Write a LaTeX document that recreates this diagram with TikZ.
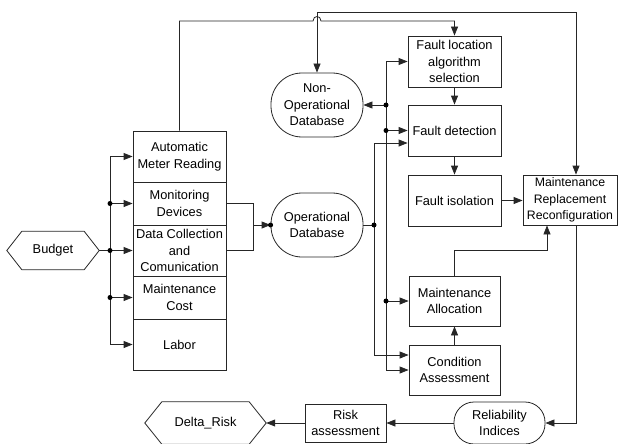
\documentclass[tikz,border=0pt]{standalone}
\usepackage{fontspec}
\setmainfont{Liberation Sans}
\usetikzlibrary{arrows.meta}
\newcommand\hexdraw[2]{\draw[ln] (#1.west) -- ([xshift=#2]#1.north west) -- ([xshift=-#2]#1.north east) -- (#1.east) -- ([xshift=-#2]#1.south east) -- ([xshift=#2]#1.south west) -- cycle;}
\begin{document}
\begin{tikzpicture}[x=1pt,y=-1pt,
  every node/.style={font=\fontsize{12.8}{16.6}\selectfont, align=center, inner sep=1pt},
  ln/.style={draw=black!85, line width=0.8pt},
  arr/.style={-{Triangle[length=9pt,width=7pt]}},
  darr/.style={{Triangle[length=9pt,width=7pt]}-{Triangle[length=9pt,width=7pt]}},
  box/.style={ln, rectangle},
  db/.style={ln, rectangle, rounded corners=#1},
  hexa/.style={rectangle}
]
\useasboundingbox (0,0) rectangle (618,444);

% left column
\node[box, minimum width=93pt, minimum height=51pt] (amr) at (179.5,156.5) {Automatic\\Meter Reading};
\node[box, minimum width=93pt, minimum height=43pt] (md) at (179.5,203.5) {Monitoring\\Devices};
\node[box, minimum width=93pt, minimum height=51pt] (dc) at (179.5,250.5) {Data Collection\\and\\Comunication};
\node[box, minimum width=93pt, minimum height=43pt] (mc) at (179.5,297.5) {Maintenance\\Cost};
\node[box, minimum width=93pt, minimum height=51pt] (lab) at (179.5,344.5) {Labor};

% budget
\node[hexa, minimum width=92pt, minimum height=38pt] (bud) at (53,250.5) {Budget};
\hexdraw{bud}{15}

% databases
\node[db=31pt, minimum width=92pt, minimum height=64pt] (nonop) at (317,105) {Non-\\Operational\\Database};
\node[db=31pt, minimum width=92pt, minimum height=64pt] (opdb) at (317,225) {Operational\\Database};

% right boxes
\node[box, minimum width=93pt, minimum height=51pt] (fl) at (454.5,61.5) {Fault location\\algorithm\\selection};
\node[box, minimum width=93pt, minimum height=51pt] (fd) at (454.5,130.5) {Fault detection};
\node[box, minimum width=93pt, minimum height=51pt] (fi) at (454.5,200.5) {Fault isolation};
\node[box, minimum width=94pt, minimum height=50pt, font=\fontsize{12.3}{16.6}\selectfont] (mrr) at (570,200) {Maintenance\\Replacement\\Reconfiguration};
\node[box, minimum width=91pt, minimum height=50pt] (ma) at (454.5,301) {Maintenance\\Allocation};
\node[box, minimum width=91pt, minimum height=50pt] (ca) at (454.5,370) {Condition\\Assessment};

% bottom row
\node[db=20pt, minimum width=91pt, minimum height=42pt] (ri) at (499.5,423) {Reliability\\Indices};
\node[box, minimum width=81pt, minimum height=38pt] (risk) at (345.5,423) {Risk\\assessment};
\node[hexa, minimum width=121pt, minimum height=42pt] (delta) at (205.5,423) {Delta\_Risk};
\hexdraw{delta}{17}

% budget bus
\coordinate (bj) at (110,250.5);
\draw[ln] (bud.east) -- (bj);
\draw[ln,arr] (bj) |- (amr.west);
\draw[ln,arr] (bj) |- (lab.west);
\draw[ln,arr] (bj) -- (dc.west);
\draw[ln,arr] (bj |- md.west) -- (md.west);
\draw[ln,arr] (bj |- mc.west) -- (mc.west);
\fill (bj) circle (2.5);
\fill (bj |- md.west) circle (2.5);
\fill (bj |- mc.west) circle (2.5);

% to operational database
\coordinate (oj) at (253,225);
\draw[ln] (md.east) -| (oj);
\draw[ln] (dc.east) -| (oj);
\draw[ln,arr] (oj) -- (opdb.west);
\fill (opdb.west) circle (2.5);

% bus 1 (from operational database)
\coordinate (b1) at (374,225);
\draw[ln] (opdb.east) -- (b1);
\draw[ln,arr] (b1) |- ([yshift=-12.5pt]fd.west);
\draw[ln,arr] (b1) |- ([yshift=15pt]ca.west);
\fill (b1) circle (2.5);

% bus 2
\coordinate (b2t) at (386,61.5);
\coordinate (b2b) at (386,370);
\draw[ln,arr] (b2t) -- (fl.west);
\draw[ln,arr] (b2t) -- (b2b) -- (ca.west);
\draw[ln,arr] (b2t |- nonop.east) -- (nonop.east);
\draw[ln,arr] (b2t |- fd.west) -- (fd.west);
\draw[ln,arr] (b2t |- ma.west) -- (ma.west);
\fill (b2t |- nonop.east) circle (2.5);
\fill (b2t |- fd.west) circle (2.5);
\fill (b2t |- ma.west) circle (2.5);

% top lines
\draw[ln,arr] (amr.north) -- (amr.north |- 0,21) -- (313,21) .. controls (313,15) and (321,15) .. (321,21) -- (fl.north |- 0,21) -- (fl.north);
\draw[ln,darr] (nonop.north) -- (nonop.north |- 0,12) -- ([xshift=6pt]mrr.north |- 0,12) -- ([xshift=6pt]mrr.north);

% right chain
\draw[ln,arr] (fl.south) -- (fd.north);
\draw[ln,arr] (fd.south) -- (fi.north);
\draw[ln,arr] (fi.east) -- (mrr.west |- fi.east);
\draw[ln,arr] (ca.north) -- (ma.south);
\draw[ln,arr] (ma.north) |- (547,250) -- (mrr.south -| 547,0);
\draw[ln,arr] ([xshift=6pt]mrr.south) |- (ri.east);

% bottom chain
\draw[ln,arr] (ri.west) -- (risk.east);
\draw[ln,arr] (risk.west) -- (delta.east);
\end{tikzpicture}
\end{document}
